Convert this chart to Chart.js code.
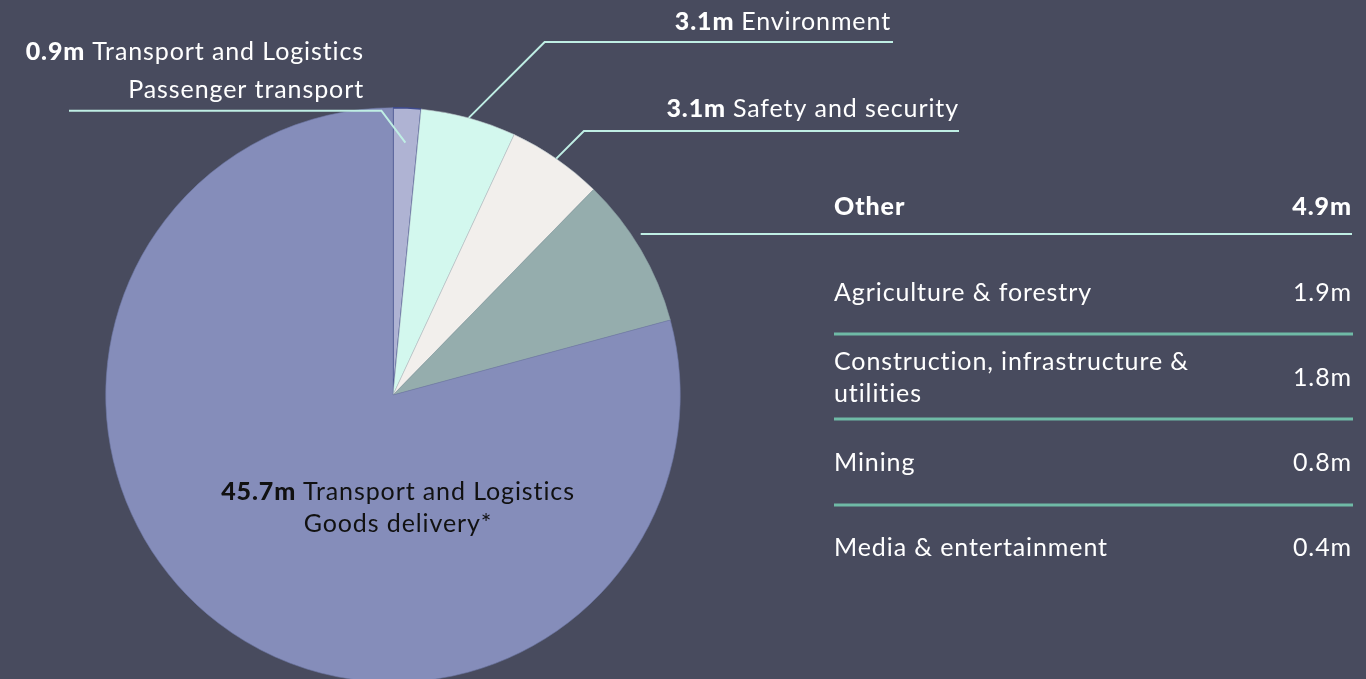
<!DOCTYPE html>
<html>
<head>
<meta charset="utf-8">
<script src="https://cdn.jsdelivr.net/npm/chart.js@4"></script>
<style>
  html, body { margin: 0; padding: 0; background: #484b5e; overflow: hidden; }
  #wrap { position: relative; width: 1366px; height: 800px; }
</style>
</head>
<body>
<div id="wrap"><canvas id="myChart"></canvas></div>
<script>
const sectors = ['Transport and Logistics|Passenger transport', 'Environment', 'Safety and security', 'Other', 'Transport and Logistics|Goods delivery*'];
const millions = [0.9, 3.1, 3.1, 4.9, 45.7];
const sliceColors = ['#afb3d3', '#d3f8ee', '#f2efec', '#95adad', '#858dba'];
const sliceBorders = ['#3e4a8c', '#b9c4c8', '#b9c4c8', '#8da2a6', '#6f78a6'];

const otherSectors = ['Agriculture & forestry', 'Construction, infrastructure &|utilities', 'Mining', 'Media & entertainment'];
const otherMillions = [1.9, 1.8, 0.8, 0.4];

const FONT = 'Lato, "Open Sans", sans-serif';
const SIZE = 25;
const SPACING = '0.9px';
const leaderColor = '#bfeee4';
const rowLineColor = '#6fbaa6';

function fmt(v) { return v.toFixed(1) + 'm'; }

function setFont(ctx, bold) {
    ctx.font = (bold ? '900 ' : '') + SIZE + 'px ' + FONT;
    ctx.letterSpacing = SPACING;
}

// draws "<bold value> <label>" with a given alignment
function richText(ctx, bold, rest, x, y, align, color) {
    setFont(ctx, true);
    const wb = ctx.measureText(bold + ' ').width;
    setFont(ctx, false);
    const wr = ctx.measureText(rest).width;
    let left = x;
    if (align === 'right') left = x - wb - wr;
    if (align === 'center') left = x - (wb + wr) / 2;
    ctx.fillStyle = color;
    ctx.textAlign = 'left';
    setFont(ctx, true);
    ctx.fillText(bold, left, y);
    setFont(ctx, false);
    ctx.fillText(rest, left + wb, y);
}

function line(ctx, pts, color, width) {
    ctx.strokeStyle = color;
    ctx.lineWidth = width;
    ctx.beginPath();
    ctx.moveTo(pts[0][0], pts[0][1]);
    for (let i = 1; i < pts.length; i++) ctx.lineTo(pts[i][0], pts[i][1]);
    ctx.stroke();
}

const labelsPlugin = {
    id: 'labels',
    afterDraw(chart) {
        const ctx = chart.ctx;
        const arcs = chart.getDatasetMeta(0).data;
        ctx.save();
        ctx.textBaseline = 'middle';

        function anchor(i, frac) {
            const a = arcs[i];
            const mid = (a.startAngle + a.endAngle) / 2;
            const r = a.outerRadius * frac;
            return [a.x + Math.cos(mid) * r, a.y + Math.sin(mid) * r];
        }

        // passenger transport
        let p = anchor(0, 0.88);
        let top = arcs[0].y - arcs[0].outerRadius + 3;
        line(ctx, [p, [p[0] - 24, top], [69, top]], leaderColor, 2);
        const pl = sectors[0].split('|');
        richText(ctx, fmt(millions[0]), pl[0], 364, 52, 'right', '#ffffff');
        setFont(ctx, false);
        ctx.textAlign = 'right';
        ctx.fillStyle = '#ffffff';
        ctx.fillText(pl[1], 364, 90);

        // environment
        p = anchor(1, 1.0);
        let ly = 42;
        line(ctx, [p, [p[0] + (p[1] - ly), ly], [893, ly]], leaderColor, 2);
        richText(ctx, fmt(millions[1]), sectors[1], 891, 22, 'right', '#ffffff');

        // safety and security
        p = anchor(2, 1.0);
        ly = 131;
        line(ctx, [p, [p[0] + (p[1] - ly), ly], [959, ly]], leaderColor, 2);
        richText(ctx, fmt(millions[2]), sectors[2], 959, 109, 'right', '#ffffff');

        // other: header of the breakdown table
        p = anchor(3, 1.0);
        line(ctx, [[p[0], 234], [1352, 234]], leaderColor, 2);
        setFont(ctx, true);
        ctx.fillStyle = '#ffffff';
        ctx.textAlign = 'left';
        ctx.fillText(sectors[3], 834, 207);
        ctx.textAlign = 'right';
        ctx.fillText(fmt(millions[3]), 1352, 207);

        const rowY = [293, 378, 463, 548];
        const sepY = [334, 419, 505];
        setFont(ctx, false);
        otherSectors.forEach(function (name, i) {
            const parts = name.split('|');
            ctx.textAlign = 'left';
            ctx.fillStyle = '#ffffff';
            if (parts.length > 1) {
                ctx.fillText(parts[0], 834, rowY[i] - 16);
                ctx.fillText(parts[1], 834, rowY[i] + 16);
            } else {
                ctx.fillText(parts[0], 834, rowY[i]);
            }
            ctx.textAlign = 'right';
            ctx.fillText(fmt(otherMillions[i]), 1352, rowY[i]);
        });
        sepY.forEach(function (y) {
            line(ctx, [[834, y], [1353, y]], rowLineColor, 3);
        });

        // goods delivery label inside the big slice
        const gl = sectors[4].split('|');
        richText(ctx, fmt(millions[4]), gl[0], 398, 492, 'center', '#111111');
        setFont(ctx, false);
        ctx.textAlign = 'center';
        ctx.fillStyle = '#111111';
        ctx.fillText(gl[1], 398, 524);
        ctx.restore();
    }
};

const ctx = document.getElementById('myChart');
new Chart(ctx, {
    type: 'pie',
    data: {
        labels: sectors,
        datasets: [{
            data: millions,
            backgroundColor: sliceColors,
            borderColor: sliceBorders,
            borderWidth: [1.5, 0.6, 0.6, 0.6, 0.6],
            borderJoinStyle: 'miter'
        }]
    },
    options: {
        responsive: true,
        maintainAspectRatio: false,
        animation: false,
        layout: { padding: { left: 105, right: 685, top: 107, bottom: 117 } },
        plugins: {
            legend: { display: false },
            tooltip: { enabled: false }
        }
    },
    plugins: [labelsPlugin]
});
</script>
</body>
</html>
